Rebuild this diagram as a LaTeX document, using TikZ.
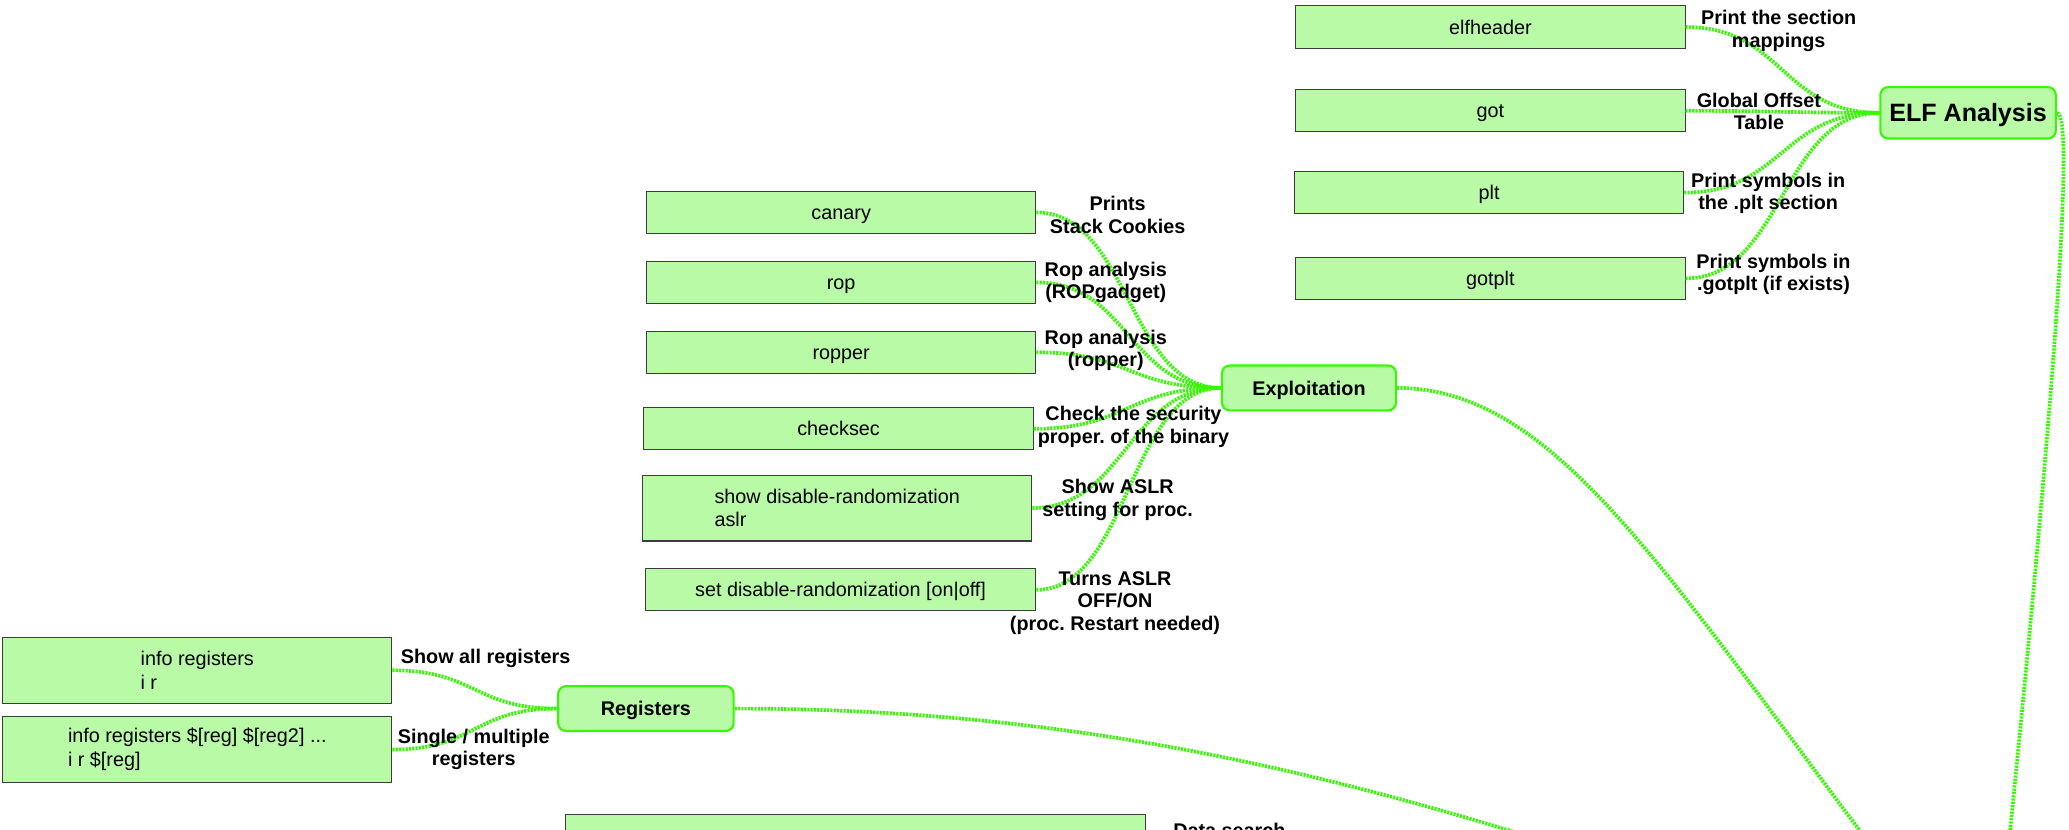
\documentclass[tikz,border=0pt]{standalone}
\usepackage{tikz}
\usepackage{fontspec}
\setmainfont{Liberation Sans}
\definecolor{leafgreen}{RGB}{184,250,166}
\definecolor{linegreen}{RGB}{51,250,0}
\definecolor{boxline}{RGB}{60,60,60}
\begin{document}
\frenchspacing
\begin{tikzpicture}[x=1pt,y=-1pt,
  leaf/.style={draw=boxline, line width=0.8pt, fill=leafgreen, minimum width=295pt,
    minimum height=32pt, inner sep=0pt, align=left, font=\fontsize{15}{18}\selectfont},
  single/.style={align=none, text height=10.8pt, text depth=0pt},
  hub/.style={draw=linegreen, line width=1.6pt, fill=leafgreen, rounded corners=6pt,
    inner sep=0pt, text height=10.8pt, text depth=0pt, font=\bfseries\fontsize{15}{17}\selectfont},
  note/.style={inner sep=0pt, align=center, font=\bfseries\fontsize{15}{17}\selectfont},
  edge/.style={draw=linegreen, line width=2.8pt, dash pattern=on 1.6pt off 0.9pt}]

\useasboundingbox (0,0) rectangle (1568,629);
\clip (0,0) rectangle (1568,629);

% hubs
\node[hub, minimum width=133pt, minimum height=39pt, text height=13.7pt,
  font=\bfseries\fontsize{19}{21}\selectfont] (elf) at (1491.5,85.5) {ELF Analysis};
\node[hub, minimum width=132pt, minimum height=34pt] (expl) at (992,294) {Exploitation};
\node[hub, minimum width=133pt, minimum height=34pt] (regs) at (489.5,537) {Registers};

% ELF leaves
\node[leaf, single, minimum height=33pt] (elfheader) at (1129.5,20.5) {elfheader};
\node[leaf, single] (got) at (1129.5,84) {got};
\node[leaf, single] (plt) at (1128.5,146) {plt};
\node[leaf, single] (gotplt) at (1129.5,211) {gotplt};

% exploitation leaves
\node[leaf, single] (canary) at (637.5,161) {canary};
\node[leaf, single] (rop) at (637.5,214) {rop};
\node[leaf, single] (ropper) at (637.5,267) {ropper};
\node[leaf, single] (checksec) at (635.5,325) {checksec};
\node[leaf, minimum height=50pt] (showaslr) at (634.5,385) {show disable-randomization\\aslr};
\node[leaf, single, minimum width=296pt] (setaslr) at (637,447) {set disable-randomization [on|off]};

% register leaves
\node[leaf, minimum height=50pt] (inforeg) at (149.5,508) {info registers\\i r};
\node[leaf, minimum height=50pt] (inforegs) at (149.5,568) {info registers \$[reg] \$[reg2] ...\\i r \$[reg]};

% search leaf at the lower edge
\node[leaf, anchor=north west, minimum width=440pt, minimum height=60pt, inner xsep=4pt,
  inner ysep=5pt, text width=432pt] (findbox) at (428,617)
  {find [/sn] start\_addr, [+len|end\_addr], val1 [, val2, ...]\\};
\node[note, anchor=north west] (findnote) at (889,624) {Data search};

% free ends of the branches towards the central topic
\coordinate (elfEnd) at (1510,760);
\coordinate (explEnd) at (1440,670);
\coordinate (regsEnd) at (1240,660);

% branches
\draw[edge] (elf.east) .. controls +(14,0) and (1558,300) .. (elfEnd);
\draw[edge] (expl.east) .. controls +(122,0) and (1265,440) .. (explEnd);
\draw[edge] (regs.east) .. controls +(244,0) and (1000,580) .. (regsEnd);

\foreach \n in {elfheader,got,plt,gotplt}
  \draw[edge] (\n.east) .. controls +(74,0) and +(-74,0) .. (elf.west);
\foreach \n in {canary,rop,ropper,checksec,showaslr,setaslr}
  \draw[edge] (\n.east) .. controls +(70,0) and +(-70,0) .. (expl.west);
\foreach \n in {inforeg,inforegs}
  \draw[edge] (\n.east) .. controls +(63,0) and +(-63,0) .. (regs.west);

% notes on the connectors
\node[note] (n1) at (1348,23.5) {Print the section\\mappings};
\node[note] (n2) at (1333,84.5) {Global Offset\\Table};
\node[note] (n3) at (1340,146.5) {Print symbols in\\the .plt section};
\node[note] (n4) at (1344,208) {Print symbols in\\.gotplt (if exists)};

\node[note] (n5) at (847,163) {Prints\\Stack Cookies};
\node[note] (n6) at (838,214) {Rop analysis\\(ROPgadget)};
\node[note] (n7) at (838,265.5) {Rop analysis\\(ropper)};
\node[note] (n8) at (859,323.5) {Check the security\\proper. of the binary};
\node[note] (n9) at (847,379) {Show ASLR\\setting for proc.};
\node[note] (n10) at (845,457) {Turns ASLR\\OFF/ON\\(proc. Restart needed)};

\node[note] (n11) at (368,499) {Show all registers};
\node[note] (n12) at (359,568) {Single / multiple\\registers};
\end{tikzpicture}
\end{document}
